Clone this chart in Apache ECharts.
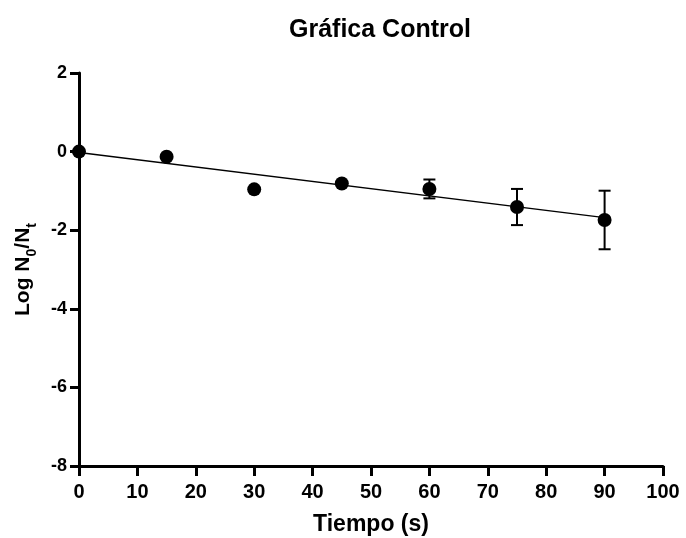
<!DOCTYPE html>
<html>
<head>
<meta charset="utf-8">
<script src="https://cdn.jsdelivr.net/npm/echarts@6/dist/echarts.min.js"></script>
<style>
html,body{margin:0;padding:0;background:#fff;}
#chart{width:686px;height:538px;}
</style>
</head>
<body>
<div id="chart"></div>
<script>
// Data
var times = [0, 15, 30, 45, 60, 75, 90];
var means = [0, -0.13, -0.96, -0.81, -0.95, -1.41, -1.74];
var errors = [0, 0, 0, 0, 0.24, 0.46, 0.745];
var fitX = [0, 90];
var fitY = [-0.02, -1.68];
var xTicks = [0, 10, 20, 30, 40, 50, 60, 70, 80, 90, 100];
var yTicks = [2, 0, -2, -4, -6, -8];

var pointData = times.map(function (t, i) { return [t, means[i]]; });
var errData = times.map(function (t, i) { return [t, means[i] - errors[i], means[i] + errors[i]]; })
  .filter(function (d, i) { return errors[i] > 0; });
var fitData = fitX.map(function (x, i) { return [x, fitY[i]]; });

var chart = echarts.init(document.getElementById('chart'), null, {renderer: 'canvas'});
chart.setOption({
  animation: false,
  backgroundColor: '#ffffff',
  title: {
    text: 'Gráfica Control',
    left: 375, top: 13, textAlign: 'center',
    textStyle: {fontFamily: 'Liberation Sans', fontWeight: 'bold', fontSize: 25, color: '#000'}
  },
  grid: {left: 79, right: 23, top: 73, bottom: 72, containLabel: false, outerBoundsMode: 'none'},
  xAxis: {
    type: 'value', min: 0, max: 100, interval: 10,
    name: 'Tiempo (s)', nameLocation: 'middle', nameGap: 47,
    nameTextStyle: {fontFamily: 'Liberation Sans', fontWeight: 'bold', fontSize: 23, color: '#000'},
    axisLine: {onZero: false, lineStyle: {color: '#000', width: 3}},
    axisTick: {length: 10, lineStyle: {color: '#000', width: 3}},
    axisLabel: {margin: 16, color: '#000', fontFamily: 'Liberation Sans', fontWeight: 'bold', fontSize: 20},
    splitLine: {show: false}
  },
  yAxis: {
    type: 'value', min: -8, max: 2, interval: 2,
    name: '{a|Log N}{s|0}{a|/N}{s|t}', nameLocation: 'middle', nameGap: 45, nameRotate: 90,
    nameTextStyle: {
      rich: {
        a: {fontFamily: 'Liberation Sans', fontWeight: 'bold', fontSize: 21, color: '#000', lineHeight: 21},
        s: {fontFamily: 'Liberation Sans', fontWeight: 'bold', fontSize: 14, color: '#000', lineHeight: 14, padding: [12, 0, 0, 0], verticalAlign: 'top'}
      }
    },
    axisLine: {onZero: false, lineStyle: {color: '#000', width: 3}},
    axisTick: {length: 9, lineStyle: {color: '#000', width: 3}},
    axisLabel: {margin: 12, color: '#000', fontFamily: 'Liberation Sans', fontWeight: 'bold', fontSize: 18},
    splitLine: {show: false}
  },
  series: [
    {
      type: 'line', data: fitData, showSymbol: false, symbol: 'none',
      lineStyle: {color: '#000', width: 1.5}, z: 2
    },
    {
      type: 'custom', data: errData, z: 3,
      renderItem: function (params, api) {
        var x = api.value(0);
        var lo = api.coord([x, api.value(1)]);
        var hi = api.coord([x, api.value(2)]);
        var hw = 6;
        var st = {stroke: '#000', lineWidth: 2};
        return {type: 'group', children: [
          {type: 'line', shape: {x1: lo[0], y1: lo[1], x2: hi[0], y2: hi[1]}, style: st},
          {type: 'line', shape: {x1: lo[0] - hw, y1: lo[1], x2: lo[0] + hw, y2: lo[1]}, style: st},
          {type: 'line', shape: {x1: hi[0] - hw, y1: hi[1], x2: hi[0] + hw, y2: hi[1]}, style: st}
        ]};
      }
    },
    {
      type: 'scatter', data: pointData, symbol: 'circle', symbolSize: 14,
      itemStyle: {color: '#000', opacity: 1}, z: 4
    }
  ]
});
</script>
</body>
</html>
